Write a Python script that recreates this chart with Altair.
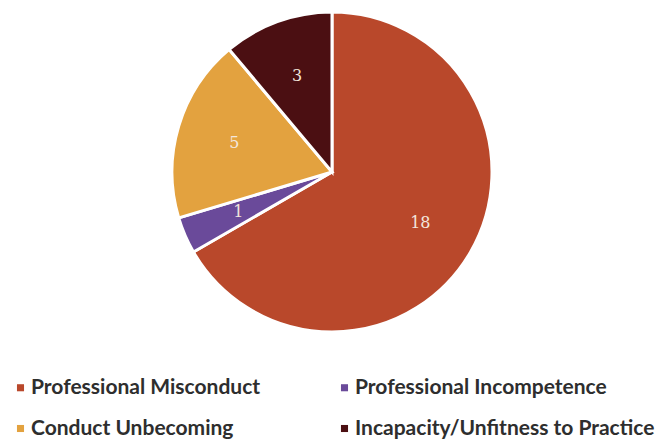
import altair as alt
import pandas as pd

categories = ["Professional Misconduct", "Professional Incompetence",
              "Conduct Unbecoming", "Incapacity/Unfitness to Practice"]
counts = [18, 1, 5, 3]
colors = ["#b9482b", "#6a4a9a", "#e3a23f", "#4b0f12"]

# legend reads row by row in the reference; Vega fills columns first
legend_order = [0, 2, 1, 3]
legend_domain = [categories[i] for i in legend_order]
legend_range = [colors[i] for i in legend_order]

df = pd.DataFrame({"category": categories, "count": counts,
                   "order": list(range(len(categories)))})

color = alt.Color(
    "category:N",
    scale=alt.Scale(domain=legend_domain, range=legend_range),
    legend=alt.Legend(
        title=None, orient="none", legendX=10, legendY=377, columns=2,
        columnPadding=73, rowPadding=19, symbolType="square", symbolSize=50,
        symbolStrokeWidth=0, labelFont="Lato", labelFontWeight="bold",
        labelFontSize=21, labelColor="#2e2e2e", labelLimit=400, labelOffset=0,
    ),
)

base = alt.Chart(df).encode(
    theta=alt.Theta("count:Q", stack=True),
    order=alt.Order("order:Q"),
    x=alt.value(332),
    y=alt.value(172),
)

pie = base.mark_arc(outerRadius=160, stroke="white", strokeWidth=3).encode(color=color)
labels = base.mark_text(radius=102, font="DejaVu Serif", fontSize=16,
                        color="#f3e6dc").encode(text="count:Q")

chart = (pie + labels).properties(
    width=660, height=441, padding=0, autosize="none", background="white"
).configure_view(stroke=None)

chart.save("out.html", embed_options={"renderer": "svg", "actions": False})
